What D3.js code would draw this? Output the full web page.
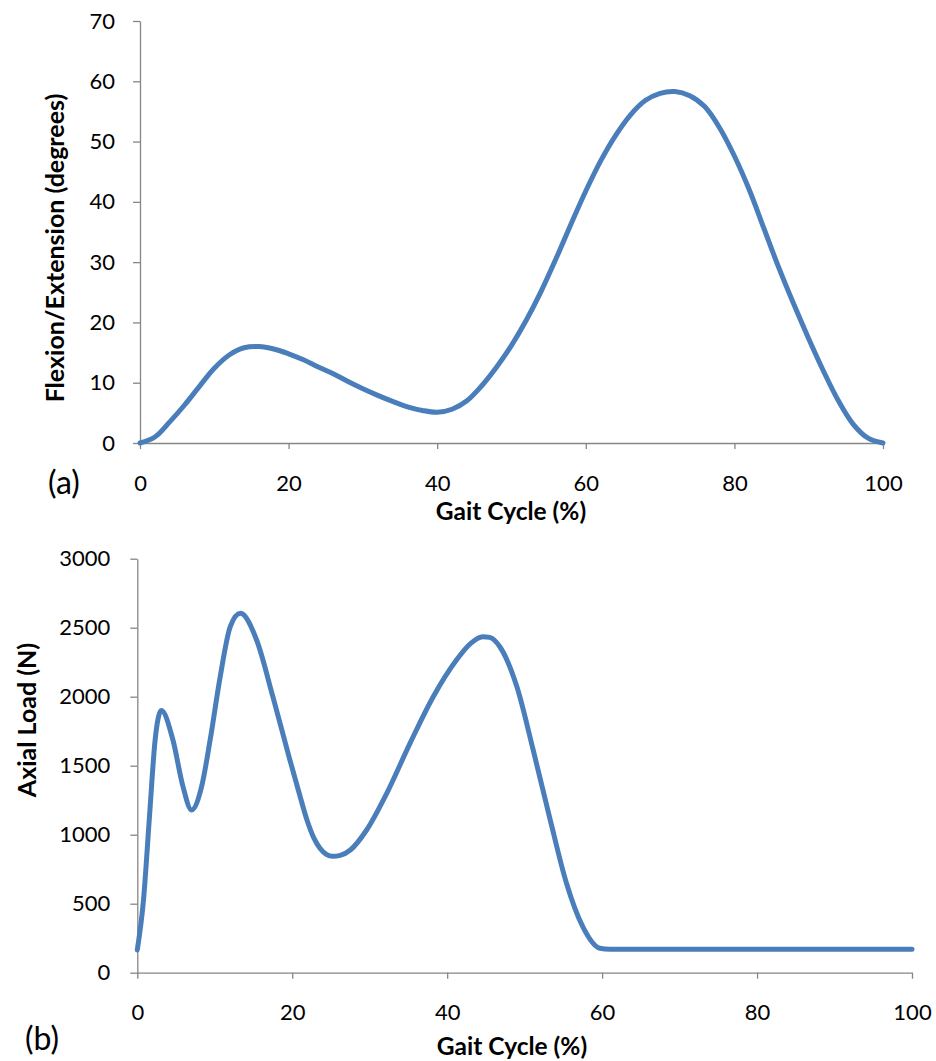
<!DOCTYPE html>
<html>
<head>
<meta charset="utf-8">
<script src="https://cdn.jsdelivr.net/npm/d3@7"></script>
<style>
  html, body { margin: 0; padding: 0; background: #fff; }
  svg { display: block; }
  text { font-family: Lato, "Open Sans", sans-serif; fill: #000; }
</style>
</head>
<body>
<svg id="chart" width="936" height="1061"></svg>
<script>
// ---- Data: (a) knee flexion/extension vs gait cycle ----
const flexGait = [0, 2, 4, 6, 8, 10, 12, 14, 16, 18, 20, 22, 24, 26, 28, 30, 32, 34, 36, 38, 40,
  42, 44, 46, 48, 50, 52, 54, 56, 58, 60, 62, 64, 66, 68, 70, 72, 74, 76, 78, 80,
  82, 84, 86, 88, 90, 92, 94, 96, 98, 100];
const flexAngle = [0, 1.0, 3.5, 6.3, 9.4, 12.4, 14.6, 15.8, 16.0, 15.6, 14.8, 13.8, 12.6, 11.5, 10.2, 9.0, 7.9, 6.9, 6.0, 5.4, 5.1,
  5.6, 7.0, 9.5, 12.6, 16.2, 20.4, 25.2, 30.6, 36.3, 41.8, 46.8, 51.0, 54.4, 56.8, 58.0, 58.3, 57.6, 55.8, 52.3, 47.6,
  42.0, 35.5, 29.0, 23.0, 17.3, 11.9, 7.0, 3.1, 0.8, 0];

// ---- Data: (b) axial load vs gait cycle ----
const loadGait = [0, 0.8, 1.6, 2.3, 3.1, 4.6, 5.9, 7.0, 8.3, 9.4, 10.7, 12.0, 13.3, 15.4, 17.5, 19.7, 20.8, 21.9,
  22.8, 23.6, 24.4, 25.2, 26.2, 27.5, 29.6, 32.2, 35.2, 38.2, 41.2, 43.0, 44.6, 45.5, 46.8, 49.0, 51.1, 53.3, 55.4,
  57.5, 59.7, 61.0, 100];
const loadN = [165, 527, 1155, 1686, 1900, 1686, 1348, 1179, 1348, 1686, 2145, 2507, 2604, 2411, 2000, 1541, 1320, 1107,
  975, 900, 858, 843, 850, 889, 1034, 1300, 1662, 2000, 2266, 2385, 2435, 2430, 2362, 2072, 1614, 1107, 648,
  333, 177, 170, 170];

// ---- Tick labels ----
const xTicks = [0, 20, 40, 60, 80, 100];
const flexTicks = [0, 10, 20, 30, 40, 50, 60, 70];
const loadTicks = [0, 500, 1000, 1500, 2000, 2500, 3000];

const lineColor = "#4A7EBB";
const axisColor = "#868686";
const svg = d3.select("#chart");

function drawPanel(cfg) {
  const x = d3.scaleLinear().domain([0, 100]).range([cfg.x0, cfg.x1]);
  const y = d3.scaleLinear().domain([0, cfg.yMax]).range([cfg.y0, cfg.y1]);
  const g = svg.append("g");

  // x axis
  const xa = g.append("g").attr("transform", `translate(0,${cfg.y0})`)
    .call(d3.axisBottom(x).tickValues(xTicks).tickFormat(d3.format("d")).tickSize(6).tickPadding(26).tickSizeOuter(0));
  xa.select(".domain").attr("stroke", axisColor).attr("stroke-width", 1.3);
  xa.selectAll(".tick line").attr("stroke", axisColor).attr("stroke-width", 1.3);
  xa.selectAll(".tick text").attr("font-size", 22).attr("fill", "#000").style("font-family", "Lato, sans-serif");

  // y axis
  const ya = g.append("g").attr("transform", `translate(${cfg.x0},0)`)
    .call(d3.axisLeft(y).tickValues(cfg.yTicks).tickFormat(d3.format("d")).tickSize(7).tickPadding(cfg.yPad).tickSizeOuter(0));
  ya.select(".domain").attr("stroke", axisColor).attr("stroke-width", 1.3);
  ya.selectAll(".tick line").attr("stroke", axisColor).attr("stroke-width", 1.3);
  ya.selectAll(".tick text").attr("font-size", 22).attr("fill", "#000").style("font-family", "Lato, sans-serif");

  // line
  const data = cfg.xs.map((v, i) => [v, cfg.ys[i]]);
  g.append("path").datum(data)
    .attr("fill", "none").attr("stroke", lineColor).attr("stroke-width", 5)
    .attr("stroke-linejoin", "round").attr("stroke-linecap", "round")
    .attr("d", d3.line().x(d => x(d[0])).y(d => y(d[1])).curve(cfg.curve));

  // x title
  g.append("text").attr("x", cfg.xtX).attr("y", cfg.xtY).attr("text-anchor", "middle")
    .attr("font-size", 24.5).attr("font-weight", "bold").text("Gait Cycle (%)");
  // y title
  g.append("text").attr("transform", `translate(${cfg.ytX},${cfg.ytY}) rotate(-90)`)
    .attr("text-anchor", "middle").attr("dy", "0.35em")
    .attr("font-size", 25).attr("font-weight", "bold").text(cfg.yTitle);
  // panel label
  g.append("text").attr("x", cfg.lbX).attr("y", cfg.lbY).attr("text-anchor", "middle")
    .attr("font-size", 32).text(cfg.label);
}

drawPanel({
  x0: 140, x1: 883, y0: 443, y1: 21, yMax: 70, yTicks: flexTicks, yPad: 18,
  xs: flexGait, ys: flexAngle, curve: d3.curveCatmullRom.alpha(0.5),
  xtX: 511, xtY: 520, ytX: 55, ytY: 248, yTitle: "Flexion/Extension (degrees)",
  lbX: 64, lbY: 494, label: "(a)"
});

drawPanel({
  x0: 137.3, x1: 912, y0: 972.7, y1: 558.7, yMax: 3000, yTicks: loadTicks, yPad: 20,
  xs: loadGait, ys: loadN, curve: d3.curveMonotoneX,
  xtX: 512, xtY: 1055, ytX: 27, ytY: 720, yTitle: "Axial Load (N)",
  lbX: 42, lbY: 1050, label: "(b)"
});
</script>
</body>
</html>
